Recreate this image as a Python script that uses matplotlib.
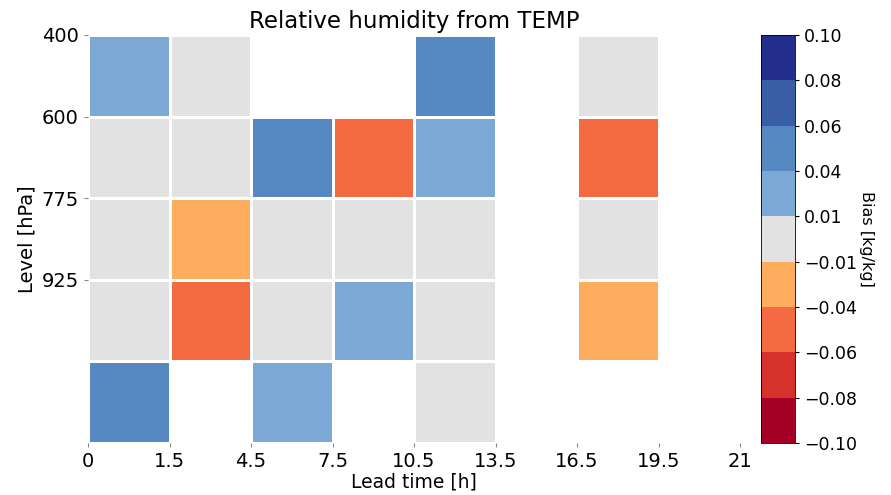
import numpy as np
import matplotlib
matplotlib.use("Agg")
import matplotlib.pyplot as plt
from matplotlib.colors import ListedColormap, BoundaryNorm

# lead time edges (h) and pressure levels (hPa)
lead_labels = ["0", "1.5", "4.5", "7.5", "10.5", "13.5", "16.5", "19.5", "21"]
level_labels = ["400", "600", "775", "925"]

# bias per level row (top -> bottom), per lead-time column; nan = no data
row_400 = [0.03, 0.0, np.nan, np.nan, 0.05, np.nan, 0.0, np.nan]
row_600 = [0.0, 0.0, 0.05, -0.05, 0.03, np.nan, -0.05, np.nan]
row_775 = [0.0, -0.03, 0.0, 0.0, 0.0, np.nan, 0.0, np.nan]
row_925 = [0.0, -0.05, 0.0, 0.03, 0.0, np.nan, -0.03, np.nan]
row_sfc = [0.05, np.nan, 0.03, np.nan, 0.0, np.nan, np.nan, np.nan]

bounds = [-0.10, -0.08, -0.06, -0.04, -0.01, 0.01, 0.04, 0.06, 0.08, 0.10]
colors = ["#a50026", "#d6312a", "#f46b42", "#fdad5d", "#e2e2e2",
          "#7ba8d5", "#5689c2", "#3a5ea6", "#232d8c"]

data = np.array([row_400, row_600, row_775, row_925, row_sfc])
cmap = ListedColormap(colors)
norm = BoundaryNorm(bounds, cmap.N)

fig = plt.figure(figsize=(8.91, 4.95), dpi=100)
ax = fig.add_axes([88 / 891, 1 - 443 / 495, (740 - 88) / 891, (443 - 35) / 495])
cax = fig.add_axes([761 / 891, 1 - 443 / 495, 34 / 891, (443 - 35) / 495])

mesh = ax.pcolormesh(np.ma.masked_invalid(data), cmap=cmap, norm=norm,
                     edgecolors="white", linewidth=2)
ax.set_xlim(0, data.shape[1])
ax.set_ylim(data.shape[0], 0)
ax.set_xticks(range(len(lead_labels)))
ax.set_xticklabels(lead_labels)
ax.set_yticks(range(len(level_labels)))
ax.set_yticklabels(level_labels)
ax.tick_params(labelsize=14, length=3, color="#888888")
for s in ax.spines.values():
    s.set_visible(False)

ax.set_title("Relative humidity from TEMP", fontsize=16.5, pad=5)
ax.set_xlabel("Lead time [h]", fontsize=13.5, labelpad=1)
ax.set_ylabel("Level [hPa]", fontsize=14, labelpad=4)

cb = fig.colorbar(mesh, cax=cax, ticks=bounds)
cb.ax.set_yticklabels([f"{b:.2f}".replace("-", "\u2212") for b in bounds])
cb.ax.tick_params(labelsize=12.5, length=3)
cb.outline.set_linewidth(0.6)
cb.set_label("Bias [kg/kg]", rotation=270, fontsize=11.5, labelpad=12)

fig.savefig("out.png", dpi=100)
